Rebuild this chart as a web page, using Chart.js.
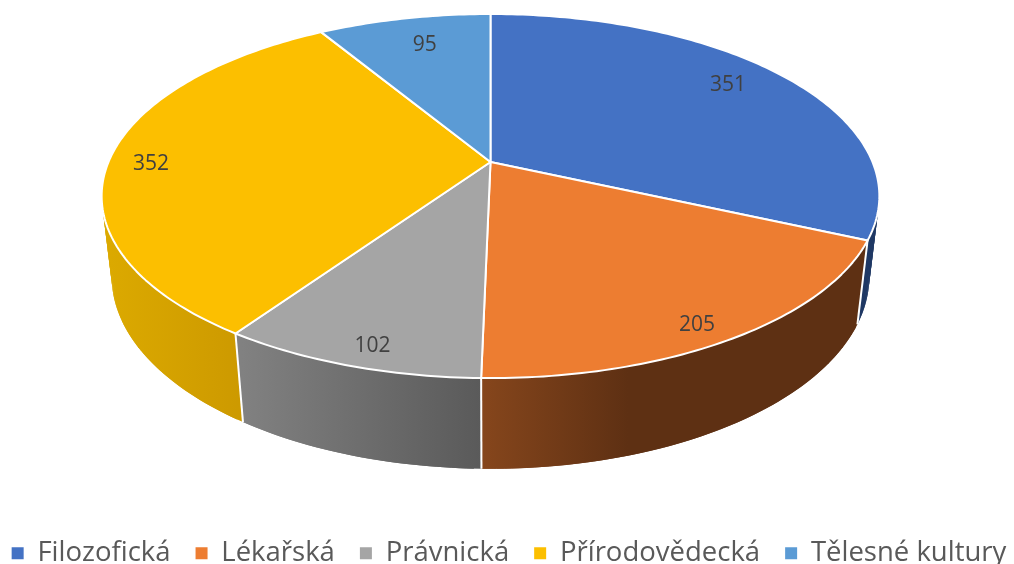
<!DOCTYPE html>
<html><head><meta charset="utf-8">
<style>html,body{margin:0;padding:0;background:#fff;overflow:hidden}canvas{display:block}</style>
<script src="https://cdn.jsdelivr.net/npm/chart.js@4/dist/chart.umd.min.js"></script>
</head><body>
<canvas id="c" width="1014" height="564"></canvas>
<script>
const categories = ['Filozofická','Lékařská','Právnická','Přírodovědecká','Tělesné kultury'];
const values = [351,205,102,352,95];
const topColors = ['#4472c4','#ed7d31','#a5a5a5','#fcbf00','#5b9bd5'];
const wallLeft = ['#1f3864','#86461c','#828282','#dcaa00','#2e5a85'];
const wallRight = ['#1f3864','#5e3013','#5a5a5a','#c49000','#2e5a85'];
const wallStop = [1,0.38,1,1,1];
const labelRadius = [0.833,0.912,0.91,0.888,0.794];
const labelShiftDeg = [-2.7,1.9,-1.25,-2.1,1.1];

// Perspective camera for the disc: unit circle (X,Y), Z = 0 top face, Z = 1 bottom face
const cam = {cx:490.5, cy:162, A:382, B:175.7, k:0.187, m:0.0256, D:81.6};
function project(X,Y,Z){
  const w = 1 - cam.k*Y + cam.m*Z;
  return [cam.cx + cam.A*X/w, cam.cy + (cam.B*Y + cam.D*Z)/w];
}
function rim(a,Z,r){ r = r===undefined?1:r; return project(r*Math.cos(a), r*Math.sin(a), Z); }

// Slices stay Chart.js arc elements; only their drawing is projected.
Chart.ArcElement.prototype.draw = function(ctx){
  const o = this.options, n = Math.max(8, Math.ceil((this.endAngle-this.startAngle)*60));
  ctx.save();
  ctx.beginPath();
  ctx.moveTo(...project(0,0,0));
  for(let i=0;i<=n;i++){ ctx.lineTo(...rim(this.startAngle+(this.endAngle-this.startAngle)*i/n,0)); }
  ctx.closePath();
  ctx.fillStyle = o.backgroundColor; ctx.fill();
  ctx.lineJoin='round'; ctx.strokeStyle = o.borderColor; ctx.lineWidth = o.borderWidth; ctx.stroke();
  ctx.restore();
};

const walls = {
  id:'walls',
  beforeLayout(chart){
    const l = chart.legend;
    if(!l._wide){ const u = l.update; l.update = (w,h,m)=>u.call(l,w+60,h,m); l._wide = true; }
  },
  beforeDatasetsDraw(chart){
    const ctx = chart.ctx, arcs = chart.getDatasetMeta(0).data;
    const order = arcs.map((a,i)=>i).sort((p,q)=>Math.sin((arcs[p].startAngle+arcs[p].endAngle)/2)-Math.sin((arcs[q].startAngle+arcs[q].endAngle)/2));
    ctx.save();
    order.forEach(i=>{
      const a = arcs[i], n = Math.ceil((a.endAngle-a.startAngle)*60);
      const xs=[]; for(let j=0;j<=n;j++){ xs.push(rim(a.startAngle+(a.endAngle-a.startAngle)*j/n,0)[0]); }
      const x0=Math.min(...xs), x1=Math.max(...xs);
      const g = ctx.createLinearGradient(x0,0,x1,0);
      g.addColorStop(0,wallLeft[i]); g.addColorStop(wallStop[i],wallRight[i]); g.addColorStop(1,wallRight[i]);
      ctx.fillStyle=g;
      for(let j=0;j<n;j++){
        const a0=a.startAngle+(a.endAngle-a.startAngle)*j/n;
        const a1=a.startAngle+(a.endAngle-a.startAngle)*Math.min(n,j+2)/n;
        ctx.beginPath();
        ctx.moveTo(...rim(a0,0)); ctx.lineTo(...rim(a1,0)); ctx.lineTo(...rim(a1,1)); ctx.lineTo(...rim(a0,1));
        ctx.closePath(); ctx.fill();
      }
    });
    ctx.strokeStyle='#fff'; ctx.lineWidth=2;
    arcs.forEach(a=>{
      ctx.beginPath(); ctx.moveTo(...rim(a.startAngle,0)); ctx.lineTo(...rim(a.startAngle,1)); ctx.stroke();
    });
    ctx.restore();
  },
  afterDatasetsDraw(chart){
    const ctx = chart.ctx, arcs = chart.getDatasetMeta(0).data;
    ctx.save();
    ctx.font='21px "Open Sans"'; ctx.fillStyle='#404040'; ctx.textAlign='center'; ctx.textBaseline='middle';
    arcs.forEach((a,i)=>{
      const mid=(a.startAngle+a.endAngle)/2+labelShiftDeg[i]*Math.PI/180;
      const p=rim(mid,0,labelRadius[i]);
      ctx.fillText(String(values[i]),p[0],p[1]+1);
    });
    ctx.restore();
  },
  afterLayout(chart){
    const l = chart.legend, d = 564 - l.bottom + 13;
    l.top += d; l.bottom += d;
  }
};

new Chart(document.getElementById('c'),{
  type:'pie',
  data:{labels:categories,datasets:[{data:values,backgroundColor:topColors,borderColor:'#ffffff',borderWidth:2}]},
  plugins:[walls],
  options:{
    responsive:false, animation:false,
    layout:{padding:{left:-26,right:-30}},
    plugins:{
      tooltip:{enabled:false},
      legend:{
        position:'bottom',
        labels:{
          boxWidth:12, boxHeight:12, padding:25, color:'#595959',
          font:{family:'"Open Sans"',size:27.5},
          generateLabels(chart){
            return Chart.overrides.pie.plugins.legend.labels.generateLabels(chart).map(x=>Object.assign(x,{lineWidth:0}));
          }
        }
      }
    }
  }
});
</script>
</body></html>
